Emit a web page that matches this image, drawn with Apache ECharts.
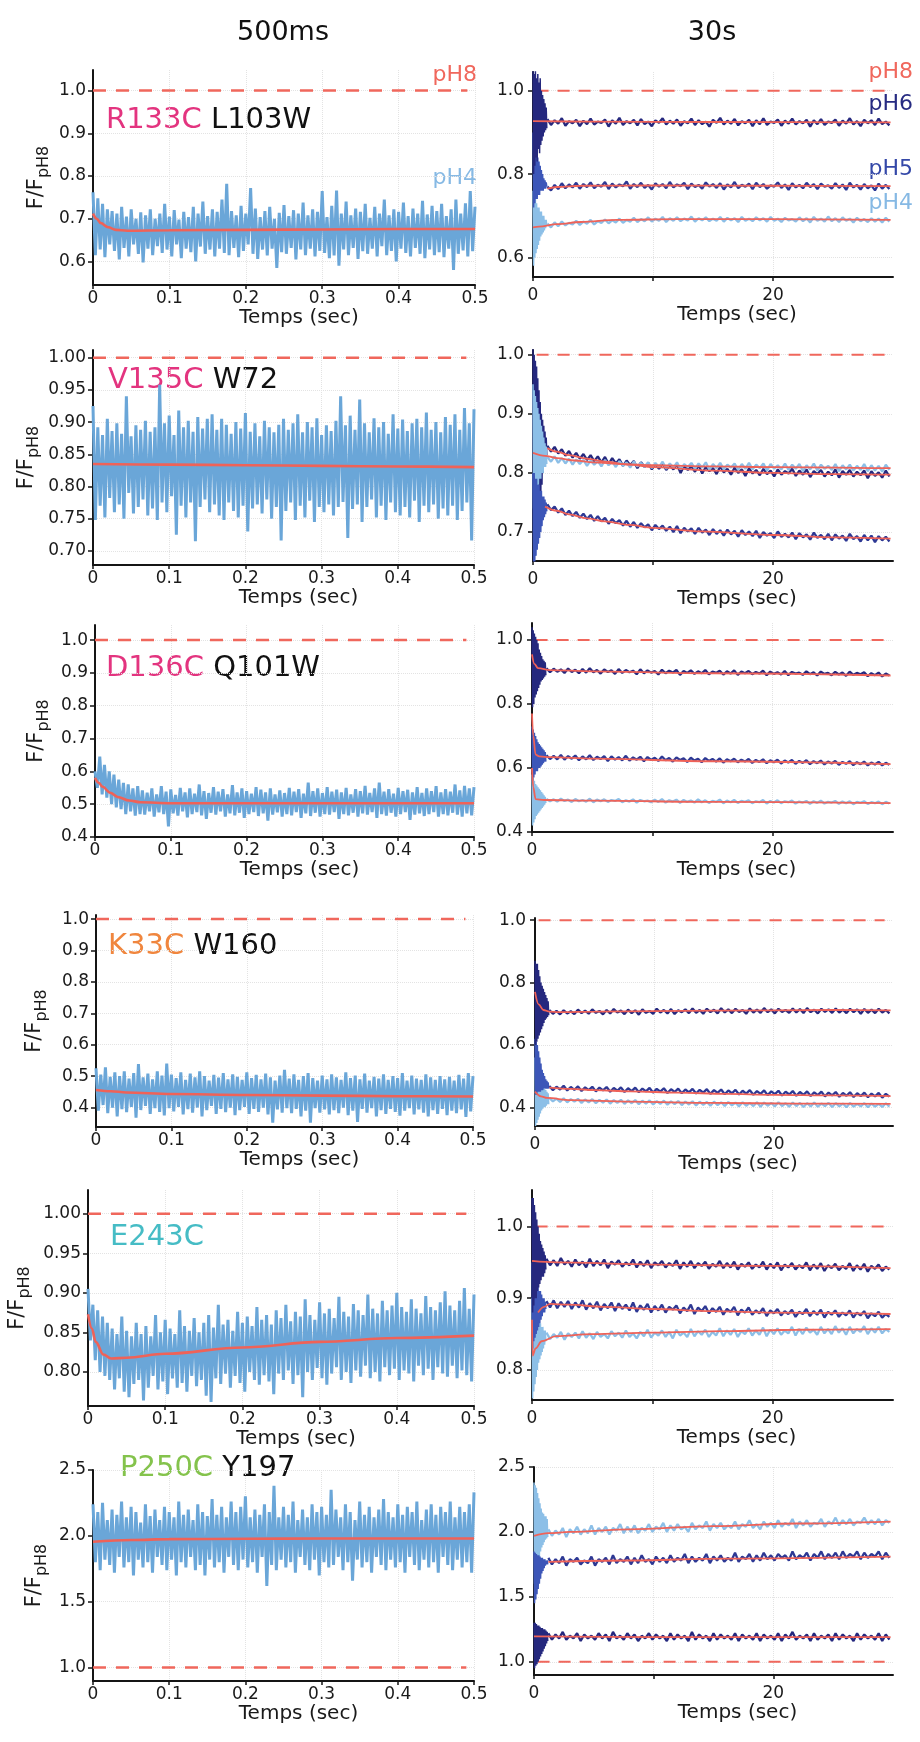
<!DOCTYPE html>
<html><head><meta charset="utf-8">
<script src="https://cdn.jsdelivr.net/npm/echarts@6/dist/echarts.min.js"></script>
<style>html,body{margin:0;padding:0;background:#fff}#c{width:920px;height:1742px}</style>
</head><body><div id="c"></div>
<script>
// ---------------- DATA ----------------
const leftDt = 0.003125;            // 500 ms traces, sample step (s)
const burstDt = 0.05;               // 30 s traces, first second (dense)
const steadyT0 = 1.2, steadyDt = 0.3;

const leftXTicks = [0, 0.1, 0.2, 0.3, 0.4, 0.5];
const rightXTicks = [0, 10, 20];
const rightXLabels = [0, 20];
const leftYTicks = [
  [0.6, 0.7, 0.8, 0.9, 1.0],
  [0.70, 0.75, 0.80, 0.85, 0.90, 0.95, 1.00],
  [0.4, 0.5, 0.6, 0.7, 0.8, 0.9, 1.0],
  [0.4, 0.5, 0.6, 0.7, 0.8, 0.9, 1.0],
  [0.80, 0.85, 0.90, 0.95, 1.00],
  [1.0, 1.5, 2.0, 2.5]
];
const leftYDecimals = [1, 2, 1, 1, 2, 1];
const rightYTicks = [
  [0.6, 0.8, 1.0],
  [0.7, 0.8, 0.9, 1.0],
  [0.4, 0.6, 0.8, 1.0],
  [0.4, 0.6, 0.8, 1.0],
  [0.8, 0.9, 1.0],
  [1.0, 1.5, 2.0, 2.5]
];
const leftYRange = [[0.545, 1.048], [0.678, 1.012], [0.4, 1.046], [0.338, 1.013], [0.757, 1.030], [0.898, 2.5]];
const rightYRange = [[0.553, 1.045], [0.651, 1.008], [0.4, 1.053], [0.340, 1.007], [0.758, 1.051], [0.898, 2.5]];
const mutants = [
  ['R133C', 'L103W'], ['V135C', 'W72'], ['D136C', 'Q101W'],
  ['K33C', 'W160'], ['E243C', ''], ['P250C', 'Y197']
];
const pH8Level = 1.0;

// 500 ms traces (pH4)
const p1Trace = [0.762,0.615,0.748,0.628,0.735,0.610,0.722,0.640,0.718,0.625,
0.712,0.605,0.728,0.632,0.705,0.612,0.722,0.640,0.700,0.618,
0.715,0.598,0.708,0.630,0.722,0.615,0.700,0.636,0.712,0.620,
0.735,0.628,0.705,0.612,0.720,0.640,0.698,0.608,0.716,0.630,
0.704,0.622,0.728,0.600,0.712,0.635,0.740,0.618,0.706,0.628,
0.722,0.612,0.716,0.630,0.745,0.620,0.782,0.615,0.718,0.632,
0.708,0.610,0.730,0.625,0.712,0.640,0.772,0.618,0.724,0.606,
0.704,0.628,0.718,0.614,0.728,0.630,0.700,0.585,0.714,0.622,
0.732,0.618,0.706,0.632,0.720,0.605,0.712,0.628,0.738,0.615,
0.708,0.630,0.722,0.612,0.716,0.625,0.765,0.620,0.704,0.608,
0.730,0.614,0.766,0.590,0.712,0.628,0.740,0.615,0.708,0.632,
0.724,0.606,0.716,0.624,0.735,0.618,0.702,0.630,0.728,0.612,
0.712,0.636,0.745,0.615,0.708,0.625,0.722,0.600,0.716,0.630,
0.738,0.620,0.706,0.612,0.724,0.632,0.712,0.618,0.742,0.608,
0.710,0.628,0.730,0.615,0.718,0.622,0.735,0.610,0.706,0.630,
0.722,0.580,0.745,0.618,0.712,0.626,0.736,0.612,0.765,0.624,0.728];
const p1Fit = [[0,0.712],[0.005,0.700],[0.01,0.690],[0.02,0.680],[0.03,0.674],[0.045,0.672],[0.1,0.673],[0.2,0.674],[0.3,0.675],[0.4,0.676],[0.5,0.676]];

const p2Trace = [0.925,0.748,0.892,0.770,0.880,0.752,0.905,0.782,0.886,0.760,
0.898,0.772,0.882,0.750,0.940,0.790,0.878,0.758,0.895,0.768,
0.888,0.780,0.902,0.755,0.885,0.766,0.892,0.748,0.958,0.775,
0.898,0.760,0.910,0.785,0.880,0.725,0.918,0.770,0.892,0.752,
0.902,0.775,0.885,0.715,0.908,0.768,0.890,0.780,0.905,0.760,
0.912,0.772,0.888,0.755,0.905,0.748,0.896,0.775,0.882,0.762,
0.900,0.752,0.890,0.770,0.914,0.730,0.885,0.766,0.898,0.772,
0.878,0.758,0.902,0.780,0.892,0.750,0.884,0.768,0.896,0.716,
0.905,0.762,0.888,0.775,0.898,0.748,0.912,0.770,0.884,0.752,
0.900,0.778,0.892,0.745,0.906,0.768,0.880,0.760,0.895,0.772,
0.886,0.755,0.902,0.768,0.940,0.776,0.895,0.720,0.910,0.765,
0.888,0.772,0.935,0.745,0.898,0.768,0.884,0.780,0.906,0.752,
0.892,0.770,0.900,0.748,0.882,0.775,0.912,0.760,0.890,0.755,
0.904,0.768,0.886,0.752,0.898,0.778,0.905,0.745,0.892,0.770,
0.915,0.760,0.888,0.772,0.900,0.750,0.884,0.766,0.908,0.755,
0.896,0.770,0.912,0.748,0.888,0.762,0.922,0.775,0.898,0.716,0.920];
const p2Fit = [[0,0.835],[0.1,0.834],[0.2,0.833],[0.3,0.832],[0.4,0.831],[0.5,0.830]];

const p3Trace = [0.600,0.550,0.645,0.530,0.620,0.520,0.600,0.500,0.590,0.490,
0.575,0.485,0.565,0.470,0.560,0.478,0.548,0.465,0.555,0.470,
0.542,0.468,0.535,0.478,0.548,0.462,0.530,0.475,0.555,0.470,
0.538,0.432,0.545,0.472,0.528,0.465,0.550,0.478,0.536,0.460,
0.548,0.470,0.532,0.476,0.560,0.466,0.540,0.455,0.534,0.474,
0.552,0.468,0.538,0.478,0.546,0.462,0.530,0.472,0.558,0.466,
0.536,0.474,0.548,0.458,0.540,0.470,0.532,0.476,0.552,0.464,
0.544,0.472,0.536,0.450,0.548,0.468,0.530,0.475,0.542,0.462,
0.534,0.470,0.550,0.466,0.538,0.476,0.546,0.458,0.532,0.472,
0.566,0.464,0.540,0.474,0.548,0.462,0.534,0.470,0.552,0.468,
0.538,0.476,0.544,0.455,0.536,0.470,0.550,0.466,0.530,0.474,
0.546,0.462,0.540,0.472,0.556,0.468,0.534,0.476,0.548,0.458,
0.566,0.470,0.538,0.465,0.546,0.474,0.532,0.462,0.550,0.470,
0.540,0.476,0.544,0.452,0.536,0.468,0.552,0.472,0.534,0.464,
0.548,0.470,0.540,0.476,0.555,0.462,0.536,0.470,0.546,0.466,
0.538,0.474,0.560,0.468,0.542,0.462,0.556,0.472,0.548,0.466,0.552];
const p3Fit = [[0,0.58],[0.005,0.565],[0.01,0.553],[0.02,0.535],[0.03,0.522],[0.045,0.511],[0.06,0.506],[0.1,0.503],[0.3,0.503],[0.5,0.503]];

const p4Trace = [0.525,0.390,0.505,0.408,0.528,0.382,0.498,0.400,0.512,0.372,
0.500,0.395,0.515,0.385,0.492,0.402,0.510,0.368,0.538,0.392,
0.496,0.405,0.508,0.380,0.490,0.398,0.515,0.386,0.502,0.375,
0.540,0.398,0.505,0.388,0.494,0.402,0.512,0.378,0.488,0.395,
0.508,0.384,0.496,0.400,0.515,0.372,0.500,0.392,0.486,0.405,
0.504,0.380,0.495,0.396,0.510,0.385,0.490,0.400,0.506,0.376,
0.498,0.392,0.488,0.402,0.512,0.380,0.494,0.396,0.504,0.386,
0.490,0.400,0.508,0.378,0.496,0.352,0.486,0.394,0.502,0.384,
0.520,0.398,0.492,0.382,0.506,0.396,0.488,0.372,0.500,0.390,
0.510,0.352,0.494,0.398,0.486,0.384,0.502,0.394,0.490,0.378,
0.506,0.392,0.496,0.382,0.488,0.400,0.512,0.376,0.494,0.390,
0.502,0.354,0.490,0.396,0.508,0.384,0.486,0.398,0.498,0.372,
0.492,0.392,0.506,0.380,0.488,0.396,0.500,0.386,0.494,0.374,
0.510,0.390,0.486,0.398,0.502,0.378,0.492,0.394,0.488,0.384,
0.506,0.372,0.496,0.392,0.488,0.380,0.500,0.396,0.490,0.376,
0.498,0.390,0.486,0.382,0.504,0.394,0.492,0.370,0.510,0.388,0.500];
const p4Fit = [[0,0.456],[0.02,0.452],[0.04,0.448],[0.1,0.443],[0.2,0.440],[0.3,0.438],[0.4,0.436],[0.5,0.435]];

const p5Trace = [0.905,0.840,0.885,0.815,0.878,0.800,0.870,0.795,0.862,0.790,
0.855,0.778,0.848,0.792,0.870,0.775,0.852,0.768,0.845,0.785,
0.862,0.790,0.848,0.764,0.858,0.780,0.845,0.795,0.872,0.778,
0.850,0.788,0.866,0.772,0.855,0.792,0.848,0.780,0.878,0.786,
0.858,0.775,0.852,0.795,0.868,0.782,0.850,0.790,0.862,0.770,
0.872,0.762,0.856,0.792,0.885,0.785,0.860,0.798,0.866,0.780,
0.852,0.795,0.876,0.786,0.862,0.775,0.870,0.800,0.858,0.790,
0.882,0.784,0.866,0.796,0.872,0.788,0.860,0.772,0.878,0.798,
0.868,0.790,0.885,0.802,0.864,0.785,0.876,0.796,0.870,0.768,
0.892,0.800,0.872,0.790,0.866,0.805,0.888,0.792,0.874,0.784,
0.880,0.798,0.868,0.806,0.895,0.790,0.876,0.800,0.870,0.786,
0.886,0.802,0.878,0.794,0.872,0.808,0.898,0.792,0.880,0.800,
0.874,0.788,0.890,0.806,0.878,0.796,0.884,0.804,0.900,0.790,
0.882,0.802,0.876,0.798,0.892,0.788,0.880,0.808,0.874,0.796,
0.896,0.804,0.882,0.790,0.878,0.806,0.888,0.798,0.902,0.794,
0.884,0.808,0.878,0.792,0.890,0.802,0.906,0.796,0.880,0.788,0.898];
const p5Fit = [[0,0.873],[0.005,0.855],[0.01,0.838],[0.02,0.822],[0.03,0.817],[0.05,0.818],[0.1,0.823],[0.2,0.831],[0.3,0.838],[0.4,0.843],[0.5,0.846]];

const p6Trace = [2.24,1.80,2.18,1.74,2.25,1.82,2.12,1.78,2.20,1.72,
2.16,1.84,2.26,1.76,2.14,1.80,2.22,1.70,2.18,1.82,
2.10,1.76,2.24,1.80,2.15,1.72,2.20,1.84,2.12,1.78,
2.22,1.74,2.18,1.82,2.14,1.70,2.26,1.80,2.16,1.76,
2.20,1.84,2.12,1.74,2.24,1.78,2.18,1.70,2.15,1.82,
2.28,1.76,2.16,1.80,2.22,1.72,2.14,1.84,2.26,1.78,
2.18,1.74,2.22,1.82,2.30,1.76,2.14,1.80,2.20,1.72,
2.16,1.84,2.24,1.62,2.18,1.78,2.38,1.74,2.14,1.82,
2.22,1.76,2.16,1.80,2.26,1.72,2.12,1.84,2.20,1.78,
2.14,1.74,2.24,1.82,2.18,1.70,2.22,1.80,2.16,1.76,
2.35,1.78,2.20,1.84,2.14,1.74,2.24,1.80,2.18,1.66,
2.12,1.82,2.26,1.76,2.16,1.80,2.22,1.72,2.14,1.84,
2.20,1.78,2.28,1.74,2.18,1.82,2.14,1.76,2.24,1.80,
2.16,1.72,2.22,1.84,2.18,1.78,2.26,1.74,2.12,1.82,
2.20,1.76,2.24,1.80,2.16,1.72,2.22,1.84,2.18,1.78,
2.26,1.74,2.14,1.82,2.22,1.76,2.18,1.80,2.24,1.72,2.33];
const p6Fit = [[0,1.955],[0.05,1.968],[0.1,1.975],[0.2,1.978],[0.3,1.980],[0.5,1.980]];

// 30 s traces: row 1
const r1pH6Burst = [1.05,0.80,1.04,0.82,1.05,0.84,1.03,0.83,1.04,0.86,1.02,0.85,1.03,0.87,1.00,0.88,0.99,0.89,0.98,0.90,0.97,0.905,0.96,0.91];
const r1pH5Burst = [0.90,0.72,0.88,0.73,0.87,0.74,0.86,0.74,0.84,0.75,0.83,0.75,0.82,0.76,0.81,0.76,0.80,0.76,0.79,0.765,0.785,0.765,0.78,0.77];
const r1pH4Burst = [0.76,0.58,0.75,0.60,0.74,0.61,0.73,0.62,0.72,0.63,0.72,0.64,0.71,0.65,0.71,0.655,0.70,0.66,0.70,0.665,0.69,0.67,0.69,0.675];
const r1pH6 = [0.932,0.918,0.929,0.921,0.934,0.916,0.927,0.922,0.930,0.915,
0.928,0.920,0.933,0.919,0.926,0.923,0.931,0.914,0.929,0.921,
0.935,0.918,0.927,0.922,0.930,0.917,0.932,0.920,0.926,0.915,
0.929,0.923,0.934,0.919,0.928,0.921,0.931,0.916,0.927,0.922,
0.933,0.918,0.929,0.920,0.926,0.914,0.930,0.923,0.935,0.919,
0.928,0.921,0.932,0.917,0.927,0.922,0.930,0.915,0.929,0.920,
0.934,0.918,0.926,0.923,0.931,0.916,0.928,0.921,0.933,0.919,
0.927,0.922,0.930,0.914,0.929,0.920,0.932,0.918,0.926,0.923,
0.931,0.916,0.928,0.921,0.934,0.919,0.927,0.915,0.930,0.922,
0.929,0.918,0.933,0.920,0.926,0.917];
const r1pH5 = [0.770,0.761,0.774,0.764,0.778,0.766,0.775,0.768,0.779,0.765,
0.776,0.769,0.780,0.766,0.774,0.770,0.781,0.764,0.777,0.768,
0.775,0.771,0.782,0.765,0.776,0.769,0.779,0.767,0.774,0.763,
0.778,0.770,0.776,0.766,0.781,0.768,0.775,0.771,0.779,0.764,
0.777,0.769,0.774,0.765,0.780,0.770,0.776,0.767,0.778,0.763,
0.775,0.768,0.781,0.766,0.774,0.770,0.777,0.764,0.779,0.769,
0.776,0.765,0.773,0.770,0.780,0.767,0.775,0.762,0.778,0.768,
0.774,0.766,0.779,0.769,0.776,0.764,0.777,0.770,0.773,0.765,
0.778,0.767,0.775,0.762,0.779,0.768,0.774,0.763,0.776,0.766,
0.773,0.761,0.777,0.765,0.774,0.764];
const r1pH4 = [0.681,0.672,0.684,0.675,0.686,0.677,0.683,0.679,0.688,0.678,
0.686,0.681,0.690,0.679,0.687,0.683,0.691,0.682,0.689,0.684,
0.693,0.683,0.690,0.686,0.695,0.685,0.692,0.687,0.696,0.686,
0.693,0.688,0.697,0.685,0.694,0.688,0.696,0.687,0.693,0.689,
0.698,0.686,0.694,0.689,0.696,0.687,0.693,0.688,0.697,0.686,
0.695,0.689,0.694,0.685,0.697,0.688,0.693,0.687,0.696,0.689,
0.694,0.686,0.697,0.688,0.693,0.685,0.695,0.689,0.692,0.686,
0.696,0.687,0.694,0.684,0.697,0.688,0.693,0.686,0.698,0.687,
0.694,0.685,0.696,0.688,0.693,0.684,0.695,0.687,0.692,0.685,
0.694,0.686,0.693,0.684,0.695,0.686];
const r1pH6Fit = [[0,0.927],[5,0.926],[15,0.925],[29.8,0.924]];
const r1pH5Fit = [[1.2,0.765],[2,0.769],[4,0.772],[10,0.773],[20,0.772],[29.8,0.771]];
const r1pH4Fit = [[0,0.672],[0.5,0.674],[2,0.680],[4,0.685],[7,0.690],[12,0.692],[20,0.692],[29.8,0.690]];

// row 2
const r2ABurst = [1.01,0.65,1.00,0.66,0.99,0.68,0.98,0.70,0.96,0.72,0.94,0.74,0.92,0.76,0.90,0.78,0.89,0.80,0.88,0.81,0.87,0.82,0.86,0.83];
const r2BBurst = [0.95,0.74,0.94,0.75,0.93,0.76,0.92,0.77,0.91,0.78,0.90,0.79,0.89,0.79,0.88,0.80,0.87,0.80,0.86,0.81,0.85,0.81,0.845,0.815];
const r2CBurst = [0.80,0.65,0.80,0.65,0.79,0.66,0.79,0.67,0.78,0.68,0.78,0.69,0.77,0.70,0.77,0.71,0.76,0.72,0.76,0.725,0.755,0.73,0.75,0.735];
const r2A = [0.846,0.836,0.844,0.833,0.840,0.829,0.837,0.826,0.834,0.824,
0.832,0.822,0.830,0.820,0.828,0.818,0.827,0.815,0.825,0.816,
0.823,0.812,0.821,0.813,0.820,0.808,0.818,0.810,0.817,0.806,
0.815,0.807,0.816,0.805,0.813,0.806,0.814,0.800,0.812,0.805,
0.811,0.802,0.813,0.799,0.810,0.803,0.808,0.798,0.811,0.801,
0.807,0.797,0.809,0.800,0.806,0.795,0.808,0.799,0.805,0.796,
0.807,0.798,0.804,0.794,0.806,0.797,0.803,0.799,0.807,0.795,
0.804,0.797,0.806,0.793,0.803,0.798,0.805,0.794,0.802,0.796,
0.806,0.792,0.803,0.797,0.805,0.794,0.802,0.796,0.804,0.791,
0.803,0.795,0.801,0.792,0.804,0.794];
const r2B = [0.827,0.819,0.828,0.817,0.825,0.816,0.824,0.814,0.823,0.815,
0.822,0.812,0.821,0.814,0.820,0.811,0.822,0.813,0.819,0.810,
0.820,0.812,0.818,0.809,0.819,0.811,0.817,0.810,0.818,0.808,
0.817,0.810,0.819,0.807,0.816,0.809,0.818,0.806,0.815,0.810,
0.817,0.807,0.816,0.809,0.818,0.805,0.815,0.808,0.817,0.806,
0.814,0.809,0.816,0.805,0.815,0.807,0.817,0.806,0.814,0.808,
0.816,0.804,0.815,0.807,0.813,0.806,0.816,0.805,0.814,0.807,
0.815,0.803,0.813,0.806,0.816,0.804,0.814,0.807,0.812,0.805,
0.815,0.803,0.813,0.806,0.814,0.804,0.812,0.805,0.815,0.803,
0.813,0.804,0.812,0.802,0.814,0.805];
const r2C = [0.747,0.737,0.743,0.733,0.740,0.729,0.736,0.727,0.734,0.724,
0.731,0.722,0.729,0.719,0.727,0.718,0.724,0.714,0.722,0.715,
0.720,0.711,0.719,0.709,0.717,0.707,0.715,0.708,0.713,0.703,
0.712,0.705,0.711,0.702,0.709,0.700,0.710,0.698,0.707,0.701,
0.706,0.697,0.707,0.699,0.704,0.695,0.705,0.697,0.703,0.694,
0.704,0.696,0.702,0.692,0.703,0.695,0.701,0.693,0.702,0.690,
0.700,0.694,0.698,0.690,0.701,0.692,0.697,0.691,0.699,0.688,
0.698,0.691,0.696,0.687,0.699,0.690,0.695,0.688,0.697,0.686,
0.696,0.689,0.694,0.685,0.697,0.688,0.693,0.684,0.695,0.686,
0.694,0.683,0.693,0.686,0.692,0.684];
const r2AFit = [[1.2,0.842],[2,0.836],[3,0.830],[4.5,0.824],[6,0.819],[8,0.814],[10,0.810],[15,0.804],[20,0.800],[25,0.798],[29.8,0.797]];
const r2BFit = [[0,0.834],[1,0.829],[2,0.825],[3.5,0.821],[5,0.818],[7.5,0.815],[10,0.813],[15,0.811],[20,0.810],[29.8,0.808]];
const r2CFit = [[1,0.743],[2,0.736],[3,0.730],[4.5,0.723],[6,0.718],[8,0.712],[10,0.707],[14,0.701],[20,0.695],[25,0.691],[29.8,0.689]];

// row 3
const r3pH6Burst = [1.04,0.79,1.03,0.80,1.02,0.82,1.01,0.83,1.00,0.84,0.99,0.85,0.97,0.86,0.96,0.87,0.95,0.875,0.94,0.88,0.935,0.885,0.93,0.89];
const r3pH5Burst = [0.73,0.56,0.72,0.57,0.71,0.58,0.70,0.59,0.69,0.59,0.68,0.60,0.675,0.60,0.67,0.605,0.665,0.61,0.66,0.615,0.655,0.62,0.65,0.62];
const r3pH4Burst = [0.58,0.42,0.57,0.43,0.56,0.44,0.55,0.45,0.545,0.455,0.54,0.46,0.535,0.465,0.53,0.47,0.525,0.475,0.52,0.48,0.515,0.485,0.51,0.49];
const r3pH6 = [0.912,0.899,0.910,0.901,0.908,0.897,0.911,0.900,0.907,0.896,
0.909,0.898,0.912,0.899,0.906,0.895,0.908,0.900,0.905,0.894,
0.909,0.897,0.906,0.899,0.904,0.893,0.908,0.896,0.905,0.898,
0.903,0.892,0.907,0.896,0.904,0.898,0.906,0.891,0.903,0.897,
0.905,0.894,0.902,0.896,0.906,0.893,0.901,0.897,0.904,0.892,
0.902,0.895,0.905,0.891,0.901,0.896,0.903,0.893,0.900,0.895,
0.904,0.890,0.901,0.894,0.899,0.892,0.903,0.890,0.900,0.895,
0.898,0.891,0.902,0.893,0.899,0.889,0.901,0.894,0.897,0.890,
0.900,0.892,0.898,0.888,0.901,0.891,0.897,0.893,0.899,0.887,
0.896,0.890,0.898,0.886,0.895,0.889];
const r3pH5 = [0.640,0.628,0.638,0.627,0.641,0.626,0.637,0.629,0.639,0.624,
0.636,0.627,0.640,0.625,0.635,0.628,0.637,0.622,0.636,0.626,
0.634,0.624,0.638,0.623,0.633,0.626,0.635,0.621,0.634,0.625,
0.632,0.622,0.636,0.624,0.631,0.620,0.633,0.625,0.630,0.619,
0.632,0.623,0.629,0.618,0.631,0.622,0.628,0.620,0.630,0.617,
0.627,0.621,0.629,0.618,0.626,0.620,0.628,0.616,0.625,0.619,
0.627,0.615,0.624,0.618,0.626,0.614,0.623,0.617,0.625,0.613,
0.622,0.616,0.624,0.612,0.621,0.615,0.623,0.611,0.620,0.614,
0.622,0.610,0.619,0.613,0.621,0.609,0.618,0.612,0.620,0.608,
0.617,0.611,0.619,0.608,0.616,0.610];
const r3pH4 = [0.503,0.496,0.502,0.495,0.504,0.497,0.501,0.494,0.503,0.496,
0.500,0.495,0.504,0.493,0.501,0.496,0.502,0.494,0.500,0.497,
0.503,0.493,0.499,0.495,0.502,0.492,0.500,0.496,0.498,0.493,
0.501,0.494,0.503,0.492,0.499,0.495,0.501,0.491,0.500,0.494,
0.498,0.492,0.502,0.493,0.499,0.491,0.497,0.494,0.501,0.490,
0.498,0.493,0.500,0.491,0.497,0.494,0.499,0.490,0.496,0.493,
0.500,0.489,0.497,0.492,0.499,0.490,0.496,0.493,0.498,0.489,
0.495,0.492,0.497,0.488,0.496,0.491,0.498,0.489,0.494,0.492,
0.497,0.488,0.495,0.490,0.496,0.487,0.494,0.491,0.496,0.488,
0.493,0.490,0.495,0.487,0.494,0.489];
const r3pH6Fit = [[0,0.955],[0.2,0.925],[0.5,0.912],[1.5,0.906],[5,0.902],[15,0.896],[29.8,0.889]];
const r3pH5Fit = [[0,0.770],[0.1,0.700],[0.3,0.642],[0.6,0.636],[1.5,0.634],[5,0.629],[15,0.621],[29.8,0.612]];
const r3pH4Fit = [[0,0.600],[0.1,0.540],[0.3,0.503],[1,0.500],[5,0.498],[15,0.494],[29.8,0.490]];

// row 4
const r4pH6Burst = [0.87,0.60,0.86,0.61,0.86,0.62,0.84,0.63,0.82,0.64,0.80,0.65,0.79,0.66,0.78,0.67,0.77,0.68,0.76,0.685,0.75,0.69,0.74,0.695];
const r4pH5Burst = [0.62,0.44,0.61,0.44,0.60,0.45,0.58,0.45,0.56,0.45,0.54,0.455,0.52,0.455,0.51,0.46,0.50,0.46,0.49,0.46,0.485,0.46,0.48,0.46];
const r4pH4Burst = [0.56,0.34,0.55,0.35,0.53,0.36,0.52,0.37,0.50,0.38,0.49,0.39,0.48,0.395,0.47,0.40,0.46,0.40,0.455,0.405,0.45,0.41,0.445,0.41];
const r4pH6 = [0.712,0.700,0.709,0.698,0.711,0.701,0.708,0.699,0.713,0.702,
0.710,0.700,0.714,0.703,0.709,0.698,0.712,0.701,0.715,0.704,
0.710,0.699,0.713,0.702,0.711,0.697,0.714,0.703,0.709,0.700,
0.716,0.704,0.712,0.701,0.715,0.699,0.711,0.705,0.714,0.702,
0.717,0.703,0.712,0.700,0.716,0.705,0.713,0.701,0.718,0.704,
0.714,0.702,0.716,0.706,0.712,0.700,0.717,0.704,0.713,0.703,
0.718,0.705,0.714,0.701,0.716,0.706,0.712,0.703,0.717,0.704,
0.715,0.702,0.718,0.705,0.713,0.701,0.716,0.706,0.714,0.703,
0.717,0.704,0.713,0.702,0.716,0.705,0.714,0.700,0.715,0.703,
0.713,0.702,0.716,0.704,0.712,0.701];
const r4pH5 = [0.468,0.455,0.466,0.457,0.469,0.454,0.465,0.456,0.467,0.452,
0.464,0.455,0.466,0.451,0.463,0.454,0.465,0.450,0.462,0.453,
0.464,0.449,0.461,0.452,0.463,0.448,0.460,0.451,0.462,0.447,
0.459,0.450,0.461,0.446,0.458,0.449,0.460,0.445,0.457,0.448,
0.459,0.444,0.456,0.447,0.458,0.443,0.455,0.446,0.457,0.442,
0.454,0.445,0.456,0.441,0.453,0.444,0.455,0.440,0.452,0.443,
0.454,0.439,0.451,0.442,0.453,0.438,0.450,0.441,0.452,0.437,
0.449,0.440,0.451,0.436,0.448,0.439,0.450,0.435,0.447,0.438,
0.449,0.434,0.446,0.437,0.448,0.433,0.445,0.436,0.447,0.432,
0.444,0.435,0.446,0.431,0.443,0.434];
const r4pH4 = [0.430,0.419,0.428,0.417,0.429,0.416,0.426,0.418,0.427,0.414,
0.425,0.416,0.426,0.413,0.424,0.415,0.425,0.412,0.423,0.414,
0.424,0.411,0.422,0.413,0.423,0.410,0.421,0.412,0.422,0.409,
0.420,0.411,0.421,0.408,0.419,0.410,0.420,0.407,0.418,0.409,
0.419,0.406,0.418,0.408,0.417,0.405,0.418,0.407,0.416,0.404,
0.417,0.406,0.415,0.403,0.416,0.405,0.414,0.404,0.416,0.402,
0.415,0.405,0.414,0.403,0.416,0.404,0.413,0.402,0.415,0.404,
0.414,0.401,0.413,0.403,0.415,0.402,0.412,0.404,0.414,0.401,
0.413,0.403,0.412,0.400,0.414,0.402,0.411,0.403,0.413,0.400,
0.412,0.402,0.411,0.401,0.413,0.402];
const r4pH6Fit = [[0,0.770],[0.3,0.730],[0.7,0.712],[1.2,0.707],[2,0.705],[5,0.707],[15,0.710],[25,0.712],[29.8,0.711]];
const r4pH5Fit = [[1.2,0.463],[3,0.459],[5,0.455],[8,0.451],[12,0.447],[16,0.443],[20,0.440],[25,0.438],[29.8,0.436]];
const r4pH4Fit = [[0,0.450],[0.5,0.435],[1,0.430],[3,0.423],[8,0.418],[15,0.414],[22,0.412],[29.8,0.411]];

// row 5
const r5pH6Burst = [1.04,0.88,1.04,0.89,1.03,0.90,1.02,0.90,1.01,0.91,1.00,0.915,0.99,0.92,0.98,0.925,0.975,0.93,0.97,0.93,0.965,0.935,0.96,0.94];
const r5pH5Burst = [0.95,0.83,0.94,0.84,0.94,0.845,0.93,0.85,0.92,0.855,0.92,0.86,0.91,0.865,0.91,0.87,0.905,0.875,0.90,0.88,0.90,0.88,0.895,0.885];
const r5pH4Burst = [0.90,0.76,0.89,0.77,0.89,0.78,0.88,0.79,0.88,0.80,0.87,0.81,0.87,0.815,0.865,0.82,0.86,0.825,0.86,0.83,0.855,0.835,0.855,0.84];
const r5pH6 = [0.955,0.946,0.953,0.945,0.956,0.947,0.952,0.944,0.954,0.946,
0.951,0.943,0.955,0.945,0.952,0.946,0.954,0.942,0.951,0.947,
0.953,0.944,0.950,0.946,0.954,0.943,0.951,0.945,0.953,0.942,
0.950,0.946,0.952,0.943,0.949,0.945,0.953,0.941,0.950,0.944,
0.952,0.942,0.949,0.945,0.951,0.941,0.948,0.944,0.952,0.942,
0.949,0.943,0.951,0.940,0.948,0.944,0.950,0.941,0.947,0.943,
0.951,0.940,0.948,0.942,0.950,0.939,0.947,0.943,0.949,0.940,
0.946,0.942,0.950,0.939,0.947,0.941,0.949,0.938,0.946,0.942,
0.948,0.939,0.945,0.941,0.949,0.938,0.946,0.940,0.948,0.937,
0.945,0.941,0.947,0.938,0.944,0.940];
const r5pH5 = [0.896,0.887,0.897,0.886,0.895,0.888,0.896,0.885,0.894,0.887,
0.897,0.884,0.893,0.886,0.895,0.883,0.892,0.886,0.894,0.882,
0.893,0.885,0.891,0.883,0.894,0.881,0.890,0.884,0.892,0.880,
0.889,0.883,0.891,0.880,0.888,0.884,0.890,0.879,0.887,0.882,
0.891,0.878,0.887,0.882,0.889,0.879,0.886,0.881,0.888,0.877,
0.885,0.881,0.888,0.876,0.884,0.880,0.887,0.877,0.883,0.879,
0.886,0.875,0.883,0.879,0.885,0.876,0.882,0.878,0.884,0.874,
0.881,0.878,0.885,0.875,0.882,0.877,0.884,0.873,0.881,0.877,
0.883,0.874,0.880,0.876,0.883,0.873,0.880,0.876,0.882,0.872,
0.879,0.875,0.881,0.873,0.878,0.874];
const r5pH4 = [0.852,0.843,0.850,0.845,0.853,0.842,0.851,0.846,0.852,0.844,
0.854,0.845,0.851,0.843,0.853,0.846,0.850,0.844,0.854,0.847,
0.852,0.845,0.855,0.846,0.851,0.844,0.853,0.847,0.856,0.845,
0.852,0.848,0.855,0.846,0.853,0.844,0.856,0.848,0.852,0.846,
0.857,0.847,0.854,0.849,0.856,0.846,0.853,0.848,0.858,0.847,
0.855,0.849,0.857,0.846,0.854,0.850,0.858,0.848,0.855,0.849,
0.859,0.847,0.856,0.850,0.858,0.849,0.855,0.851,0.860,0.848,
0.857,0.850,0.859,0.852,0.856,0.849,0.860,0.851,0.857,0.850,
0.861,0.852,0.858,0.849,0.860,0.851,0.857,0.853,0.861,0.850,
0.858,0.852,0.860,0.851,0.857,0.853];
const r5pH6Fit = [[0,0.952],[2,0.950],[10,0.947],[20,0.945],[29.8,0.942]];
const r5pH5Fit = [[0.5,0.880],[1,0.888],[1.5,0.892],[3,0.891],[6,0.888],[10,0.885],[15,0.882],[20,0.880],[29.8,0.878]];
const r5pH4Fit = [[0,0.870],[0.05,0.820],[0.3,0.830],[0.8,0.840],[2,0.847],[5,0.850],[10,0.852],[16,0.854],[22,0.856],[29.8,0.857]];

// row 6
const r6LBurst = [2.38,1.60,2.36,1.65,2.34,1.70,2.30,1.75,2.26,1.80,2.22,1.85,2.18,1.88,2.15,1.90,2.14,1.92,2.12,1.94,2.12,1.95,2.10,1.96];
const r6MBurst = [1.85,1.45,1.84,1.48,1.83,1.52,1.82,1.56,1.82,1.60,1.81,1.64,1.80,1.68,1.80,1.70,1.79,1.72,1.79,1.74,1.78,1.75,1.78,1.75];
const r6NBurst = [1.30,0.95,1.30,0.97,1.29,0.98,1.28,1.00,1.28,1.02,1.27,1.04,1.26,1.06,1.26,1.08,1.25,1.10,1.25,1.12,1.24,1.14,1.23,1.16];
const r6L = [2.02,1.97,2.01,1.98,2.03,1.96,2.02,1.99,2.04,1.98,
2.02,1.99,2.05,1.98,2.03,2.00,2.04,1.98,2.03,2.01,
2.06,1.99,2.04,2.00,2.05,1.99,2.03,2.01,2.06,2.00,
2.04,2.02,2.07,2.00,2.05,2.01,2.06,2.02,2.04,2.00,
2.07,2.02,2.05,2.03,2.08,2.01,2.06,2.03,2.07,2.02,
2.05,2.03,2.08,2.02,2.06,2.04,2.09,2.03,2.06,2.02,
2.08,2.04,2.07,2.03,2.09,2.04,2.07,2.05,2.10,2.03,
2.08,2.05,2.09,2.04,2.07,2.06,2.10,2.04,2.08,2.06,
2.11,2.05,2.09,2.06,2.10,2.05,2.08,2.07,2.11,2.06,
2.09,2.06,2.10,2.05,2.09,2.07];
const r6M = [1.80,1.75,1.79,1.76,1.81,1.74,1.79,1.77,1.80,1.75,
1.78,1.76,1.81,1.74,1.79,1.77,1.80,1.75,1.82,1.76,
1.79,1.77,1.81,1.75,1.80,1.76,1.82,1.77,1.79,1.75,
1.81,1.77,1.80,1.76,1.82,1.77,1.80,1.78,1.83,1.76,
1.81,1.77,1.80,1.78,1.83,1.76,1.81,1.78,1.82,1.77,
1.80,1.78,1.84,1.77,1.81,1.79,1.83,1.77,1.82,1.78,
1.84,1.79,1.82,1.78,1.83,1.80,1.82,1.78,1.85,1.79,
1.82,1.80,1.84,1.78,1.83,1.80,1.85,1.79,1.83,1.80,
1.84,1.79,1.85,1.80,1.83,1.81,1.85,1.79,1.84,1.80,
1.83,1.81,1.85,1.79,1.84,1.80];
const r6N = [1.22,1.17,1.21,1.18,1.23,1.17,1.20,1.18,1.22,1.16,
1.21,1.18,1.20,1.17,1.22,1.18,1.21,1.16,1.23,1.18,
1.20,1.17,1.22,1.18,1.21,1.16,1.20,1.18,1.22,1.17,
1.21,1.18,1.20,1.16,1.22,1.17,1.21,1.18,1.20,1.16,
1.23,1.17,1.21,1.18,1.20,1.16,1.22,1.17,1.21,1.18,
1.20,1.17,1.22,1.16,1.21,1.18,1.20,1.17,1.22,1.16,
1.21,1.18,1.20,1.17,1.22,1.16,1.21,1.18,1.23,1.17,
1.20,1.18,1.21,1.16,1.22,1.17,1.20,1.18,1.21,1.16,
1.22,1.17,1.21,1.18,1.20,1.16,1.22,1.17,1.21,1.18,
1.20,1.17,1.22,1.16,1.21,1.17];
const r6LFit = [[0,1.970],[1.2,1.990],[3,2.000],[8,2.020],[15,2.045],[22,2.065],[29.8,2.080]];
const r6MFit = [[1.2,1.770],[8,1.780],[16,1.795],[29.8,1.810]];
const r6NFit = [[0,1.195],[10,1.190],[29.8,1.190]];

// ---------------- STYLE / LAYOUT ----------------
const FONT = '"DejaVu Sans", sans-serif';
const COL = {
  trace: '#6aa6d8', light: '#8cbfe7', navy: '#25287e', mid: '#2d3894', burstMid: '#3c56b8',
  fit: '#ef6258', dash: '#f0675c', axis: '#151515', grid: '#e3e3e3', text: '#1a1a1a'
};
const mutantColors = ['#e3347f', '#e3347f', '#e3347f', '#f0863e', '#46bcc5', '#84c34c'];
const leftGrids = [[93,70,382,215],[93,350,381,215],[95,625,379,212],[96,915,377,212],[88,1190,386,216],[93,1470,381,211]];
const rightGrids = [[533,72,360,205],[533,350,360,211],[532,623,361,209],[535,918,358,208],[532,1190,361,210],[534,1467,359,208]];
const yNameGaps = [41, 51, 43, 46, 55, 43];
const titlePos = [[106,120],[108,380],[106,668],[108,946],[110,1237],[120,1468]];

function seq(vals, t0, dt) { return vals.map((v, i) => [+(t0 + i * dt).toFixed(4), v]); }

const rightRows = [
  { traces: [[r1pH4Burst, COL.light, r1pH4, COL.light], [r1pH5Burst, COL.burstMid, r1pH5, COL.mid], [r1pH6Burst, COL.navy, r1pH6, COL.navy]], fits: [r1pH4Fit, r1pH5Fit, r1pH6Fit] },
  { traces: [[r2ABurst, COL.navy, r2A, COL.navy], [r2BBurst, COL.light, r2B, COL.light], [r2CBurst, COL.burstMid, r2C, COL.mid]], fits: [r2AFit, r2BFit, r2CFit] },
  { traces: [[r3pH4Burst, COL.light, r3pH4, COL.light], [r3pH5Burst, COL.burstMid, r3pH5, COL.mid], [r3pH6Burst, COL.navy, r3pH6, COL.navy]], fits: [r3pH4Fit, r3pH5Fit, r3pH6Fit] },
  { traces: [[r4pH4Burst, COL.light, r4pH4, COL.light], [r4pH5Burst, COL.burstMid, r4pH5, COL.mid], [r4pH6Burst, COL.navy, r4pH6, COL.navy]], fits: [r4pH4Fit, r4pH5Fit, r4pH6Fit] },
  { traces: [[r5pH4Burst, COL.light, r5pH4, COL.light], [r5pH5Burst, COL.burstMid, r5pH5, COL.mid], [r5pH6Burst, COL.navy, r5pH6, COL.navy]], fits: [r5pH4Fit, r5pH5Fit, r5pH6Fit] },
  { traces: [[r6LBurst, COL.light, r6L, COL.light], [r6MBurst, COL.burstMid, r6M, COL.mid], [r6NBurst, COL.navy, r6N, COL.navy]], fits: [r6LFit, r6MFit, r6NFit] }
];
const leftRows = [[p1Trace, p1Fit], [p2Trace, p2Fit], [p3Trace, p3Fit], [p4Trace, p4Fit], [p5Trace, p5Fit], [p6Trace, p6Fit]];

const grids = [], xAxes = [], yAxes = [], series = [];
const tickFont = { fontSize: 17, fontFamily: FONT, color: COL.text };

function makeX(gi, isLeft) {
  return {
    type: 'value', gridIndex: gi, min: 0, max: isLeft ? 0.5 : 30,
    axisLine: { show: true, onZero: false, lineStyle: { color: COL.axis, width: 2 } },
    axisTick: { show: true, length: 4, customValues: isLeft ? leftXTicks : rightXTicks, lineStyle: { color: COL.axis, width: 1.5 } },
    axisLabel: Object.assign({ customValues: isLeft ? leftXTicks : rightXLabels, margin: isLeft ? 5 : 10, formatter: v => String(v) }, tickFont),
    splitLine: { show: true, lineStyle: { color: COL.grid, type: 'dotted', width: 1 } },
    name: 'Temps (sec)', nameLocation: 'middle', nameGap: isLeft ? 21 : 24,
    nameTextStyle: { fontSize: 20, fontFamily: FONT, color: COL.text, padding: isLeft ? [0, 0, 0, 30] : [0, 0, 0, 48] }
  };
}
function makeY(gi, range, ticks, dec, isLeft, gap) {
  const ax = {
    type: 'value', gridIndex: gi, min: range[0], max: range[1],
    axisLine: { show: true, onZero: false, lineStyle: { color: COL.axis, width: 2 } },
    axisTick: { show: true, length: 5, customValues: ticks, lineStyle: { color: COL.axis, width: 1.5 } },
    axisLabel: Object.assign({ customValues: ticks, margin: isLeft ? 7 : 9, formatter: v => v.toFixed(dec) }, tickFont),
    splitLine: { show: true, lineStyle: { color: COL.grid, type: 'dotted', width: 1 } }
  };
  if (isLeft) {
    ax.name = '{m|F/F}{s|pH8}';
    ax.nameLocation = 'middle';
    ax.nameGap = gap;
    ax.nameTextStyle = {
      fontFamily: FONT, color: COL.text,
      rich: {
        m: { fontSize: 21, fontFamily: FONT, color: COL.text, lineHeight: 30, verticalAlign: 'middle' },
        s: { fontSize: 16, fontFamily: FONT, color: COL.text, lineHeight: 16, verticalAlign: 'bottom' }
      }
    };
  }
  return ax;
}
function lineSeries(gi, data, color, width, extra) {
  return Object.assign({
    type: 'line', xAxisIndex: gi, yAxisIndex: gi, data: data, showSymbol: false, symbol: 'none',
    animation: false, silent: true, lineStyle: { color: color, width: width, join: 'bevel' }
  }, extra || {});
}
const fitExtra = { smooth: 0.35, smoothMonotone: 'x' };

for (let r = 0; r < 6; r++) {
  // left (500 ms)
  let gi = grids.length;
  const lg = leftGrids[r];
  grids.push({ left: lg[0], top: lg[1], width: lg[2], height: lg[3] });
  xAxes.push(makeX(gi, true));
  yAxes.push(makeY(gi, leftYRange[r], leftYTicks[r], leftYDecimals[r], true, yNameGaps[r]));
  series.push(lineSeries(gi, [[0, pH8Level], [0.49, pH8Level]], COL.dash, 2.5, { lineStyle: { color: COL.dash, width: 2.5, type: [13, 10] } }));
  series.push(lineSeries(gi, seq(leftRows[r][0], 0, leftDt), COL.trace, 3));
  series.push(lineSeries(gi, leftRows[r][1], COL.fit, 2.6, fitExtra));
  // right (30 s)
  gi = grids.length;
  const rg = rightGrids[r];
  grids.push({ left: rg[0], top: rg[1], width: rg[2], height: rg[3] });
  xAxes.push(makeX(gi, false));
  yAxes.push(makeY(gi, rightYRange[r], rightYTicks[r], 1, false, 0));
  series.push(lineSeries(gi, [[0.3, pH8Level], [29.3, pH8Level]], COL.dash, 2, { lineStyle: { color: COL.dash, width: 2, type: [12, 9] } }));
  rightRows[r].traces.forEach(tr => {
    series.push(lineSeries(gi, seq(tr[0], 0, burstDt), tr[1], 1.5));
  });
  rightRows[r].traces.forEach(tr => {
    series.push(lineSeries(gi, seq(tr[2], steadyT0, steadyDt), tr[3], 2.3));
  });
  rightRows[r].fits.forEach(f => series.push(lineSeries(gi, f, COL.fit, 1.8, fitExtra)));
}

// text annotations
function txt(x, y, text, size, fill, align, rich) {
  const st = { text: text, x: 0, y: 0, fontSize: size, fontFamily: FONT, fill: fill,
    align: align, textAlign: align, verticalAlign: 'middle', textVerticalAlign: 'middle' };
  if (rich) st.rich = rich;
  return { type: 'text', x: x, y: y, silent: true, style: st };
}
const graphic = [
  txt(283, 33, '500ms', 27, '#111', 'center'),
  txt(712, 33, '30s', 27, '#111', 'center'),
  txt(477, 75, 'pH8', 22, COL.dash, 'right'),
  txt(477, 178, 'pH4', 22, '#86b9e4', 'right'),
  txt(913, 72, 'pH8', 22, COL.dash, 'right'),
  txt(913, 104, 'pH6', 22, '#272b82', 'right'),
  txt(913, 169, 'pH5', 22, '#3448a8', 'right'),
  txt(913, 203, 'pH4', 22, '#86b9e4', 'right')
];
mutants.forEach((m, r) => {
  const rich = {
    a: { fill: mutantColors[r], color: mutantColors[r], fontSize: 29, fontFamily: FONT },
    b: { fill: '#111', color: '#111', fontSize: 29, fontFamily: FONT }
  };
  const t = m[1] ? '{a|' + m[0] + '} {b|' + m[1] + '}' : '{a|' + m[0] + '}';
  graphic.push(txt(titlePos[r][0], titlePos[r][1], t, 29, '#111', 'left', rich));
});

const chart = echarts.init(document.getElementById('c'), null, { renderer: 'canvas' });
chart.setOption({
  animation: false,
  backgroundColor: '#ffffff',
  grid: grids, xAxis: xAxes, yAxis: yAxes, series: series, graphic: graphic
});
</script></body></html>
